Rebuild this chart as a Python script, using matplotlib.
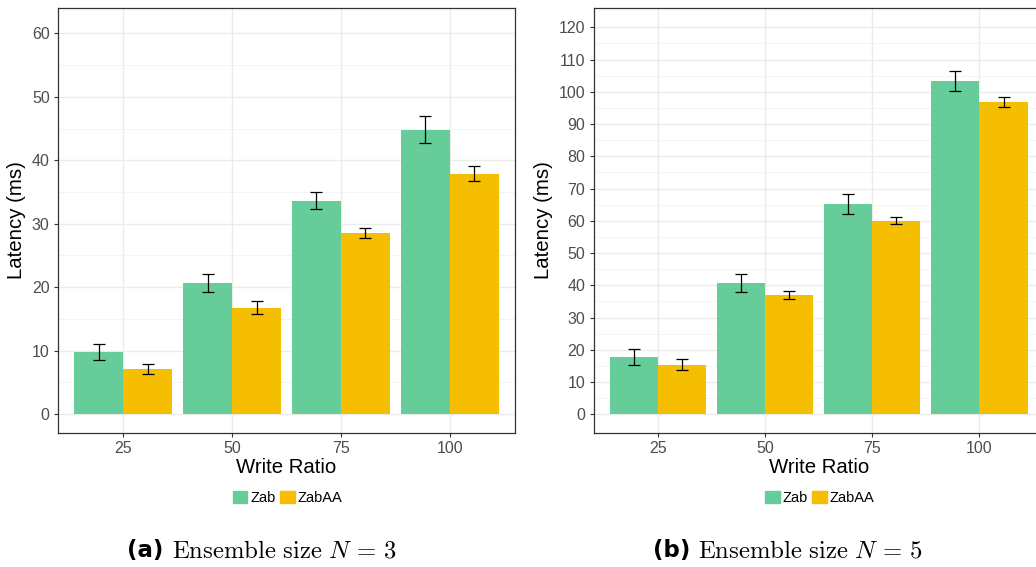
import matplotlib
matplotlib.use("Agg")
import matplotlib.pyplot as plt
from matplotlib.patches import Patch
import numpy as np

# write ratios on the x axis
write_ratio = ["25", "50", "75", "100"]

# ensemble size N = 3
zab_n3 = [9.8, 20.7, 33.6, 44.8]
zab_n3_err = [1.3, 1.4, 1.35, 2.1]
zabaa_n3 = [7.1, 16.75, 28.55, 37.85]
zabaa_n3_err = [0.85, 1.0, 0.75, 1.2]

# ensemble size N = 5
zab_n5 = [17.8, 40.7, 65.2, 103.3]
zab_n5_err = [2.4, 2.9, 3.0, 3.1]
zabaa_n5 = [15.3, 37.0, 60.0, 96.8]
zabaa_n5_err = [1.7, 1.2, 1.1, 1.55]

green = "#66CC99"
yellow = "#F5BE00"

plt.rcParams["font.family"] = ["Liberation Sans", "DejaVu Sans"]
plt.rcParams["mathtext.fontset"] = "cm"

fig = plt.figure(figsize=(10.36, 5.67), dpi=100)
W, H = 1036, 567


def panel(rect, zab, zab_err, zabaa, zabaa_err, ylim, major, minor):
    ax = fig.add_axes(rect)
    x = np.arange(1, len(write_ratio) + 1)
    w = 0.45
    ax.bar(x - w / 2, zab, w, color=green, zorder=2)
    ax.bar(x + w / 2, zabaa, w, color=yellow, zorder=2)
    ax.errorbar(x - w / 2, zab, yerr=zab_err, fmt="none", ecolor="black",
                elinewidth=0.9, capsize=4, capthick=0.9, zorder=3)
    ax.errorbar(x + w / 2, zabaa, yerr=zabaa_err, fmt="none", ecolor="black",
                elinewidth=0.9, capsize=4, capthick=0.9, zorder=3)
    ax.set_xlim(0.4, 4.6)
    ax.set_ylim(*ylim)
    ax.set_xticks(x)
    ax.set_xticklabels(write_ratio)
    ax.set_yticks(major)
    ax.set_yticks(minor, minor=True)
    ax.grid(True, which="major", color="#EBEBEB", linewidth=1.0, zorder=0)
    ax.grid(True, which="minor", axis="y", color="#F2F2F2", linewidth=0.6, zorder=0)
    ax.set_axisbelow(True)
    for s in ax.spines.values():
        s.set_color("#333333")
        s.set_linewidth(0.9)
    ax.tick_params(which="major", length=3, width=0.8, color="#333333",
                   labelsize=11.5, labelcolor="#4D4D4D", pad=3)
    ax.tick_params(which="minor", length=0)
    ax.set_xlabel("Write Ratio", fontsize=14.7, labelpad=1)
    ax.set_ylabel("Latency (ms)", fontsize=14.7, labelpad=4)
    return ax


# left panel
panel([58 / W, (H - 433) / H, 457 / W, 425 / H], zab_n3, zab_n3_err, zabaa_n3,
      zabaa_n3_err, (-3.0, 64.0), np.arange(0, 61, 10), np.arange(5, 61, 10))

# right panel (cut at figure edge like the original)
panel([593.7 / W, (H - 433) / H, 450 / W, 425 / H], zab_n5, zab_n5_err, zabaa_n5,
      zabaa_n5_err, (-5.8, 126.0), np.arange(0, 121, 10), np.arange(5, 121, 10))

handles = [Patch(color=green, label="Zab"), Patch(color=yellow, label="ZabAA")]
for cx in (287.5 / W, 820 / W):
    fig.legend(handles=handles, loc="center", bbox_to_anchor=(cx, 1 - 498 / H),
               ncol=2, frameon=False, fontsize=10.5, handlelength=1.0,
               handleheight=0.9, handletextpad=0.2, columnspacing=0.3)

# captions
for tag, n, left in (("(a)", 3, 127), ("(b)", 5, 653)):
    y = 1 - 551 / H
    fig.text(left / W, y, tag, ha="left", va="center", fontsize=16.5,
             fontweight="bold", family="DejaVu Sans")
    fig.text((left + 45) / W, y, r"$\mathrm{Ensemble\ size}\ N\,=\,%d$" % n,
             ha="left", va="center", fontsize=17.8)

fig.savefig("out.png", dpi=100)
